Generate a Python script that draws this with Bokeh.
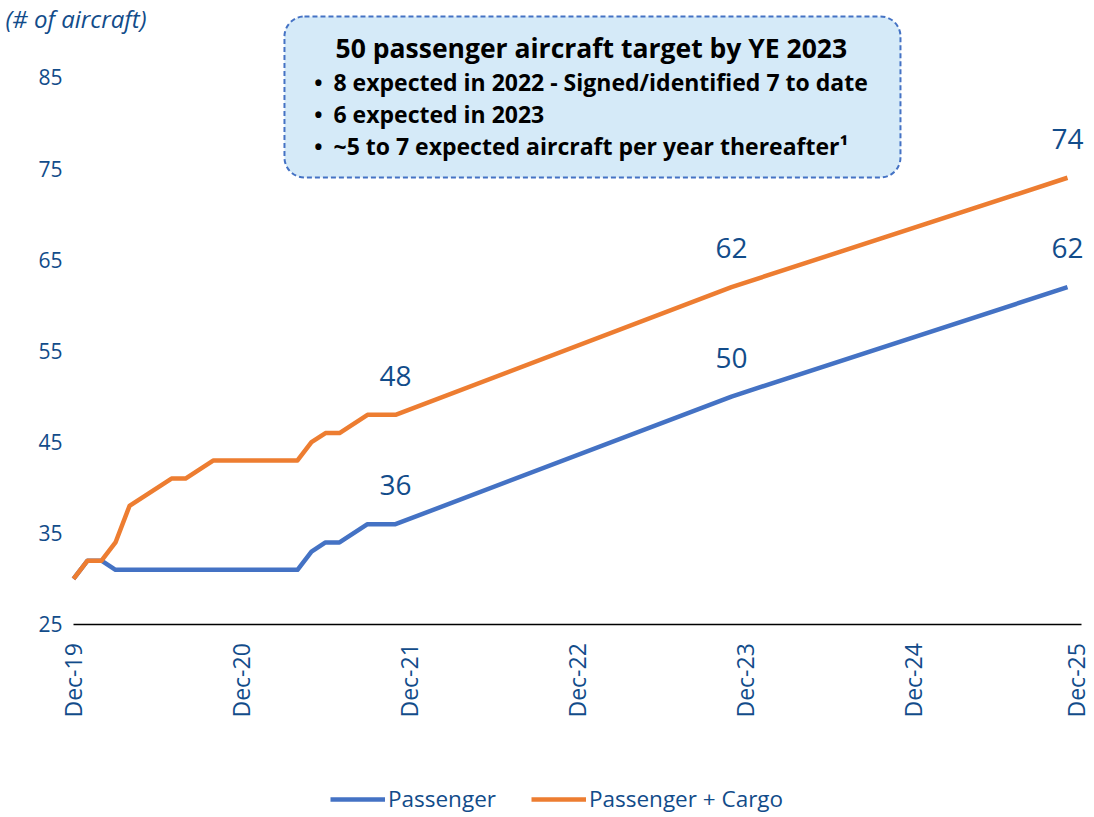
from bokeh.plotting import figure
from bokeh.models import (Range1d, FixedTicker, Legend, LegendItem, Label, BoxAnnotation)
from bokeh.core.properties import value
from bokeh.embed import file_html
from bokeh.resources import INLINE

# ---- data ----
pax_months = [0, 1, 2, 3, 16, 17, 18, 19, 21, 23, 47, 71]
pax_values = [30, 32, 32, 31, 31, 33, 34, 34, 36, 36, 50, 62]
pc_months = [0, 1, 2, 3, 4, 7, 8, 10, 16, 17, 18, 19, 21, 23, 47, 71]
pc_values = [30, 32, 32, 34, 38, 41, 41, 43, 43, 45, 46, 46, 48, 48, 62, 74]
label_months = [23, 47, 71]
pax_labels = [36, 50, 62]
pc_labels = [48, 62, 74]
tick_months = [0, 12, 24, 36, 48, 60, 72]
tick_labels = ["Dec-19", "Dec-20", "Dec-21", "Dec-22", "Dec-23", "Dec-24", "Dec-25"]
y_ticks = [25, 35, 45, 55, 65, 75, 85]

BLUE = "#4472c4"
ORANGE = "#ed7d31"
TXT = "#124c8a"
FONT = "Open Sans"

p = figure(frame_width=1092, frame_height=816, output_backend="svg", toolbar_location=None,
           x_range=Range1d(-5.214, 72.786), y_range=Range1d(3.94, 93.44),
           x_axis_location="above", y_axis_location="right",
           min_border_left=0, min_border_right=0, min_border_top=0,
           min_border_bottom=0)
p.outline_line_color = None
p.xgrid.grid_line_color = None
p.ygrid.grid_line_color = None
p.background_fill_color = None
p.border_fill_color = "white"

# x axis drawn at y = 25, labels hanging below it
p.xaxis.ticker = FixedTicker(ticks=tick_months)
p.xaxis.fixed_location = 25
p.xaxis.bounds = (0, 72)
p.xaxis.major_label_overrides = {m: l for m, l in zip(tick_months, tick_labels)}
p.xaxis.major_label_orientation = "vertical"
p.xaxis.major_label_text_font = FONT
p.xaxis.major_label_text_font_size = "23px"
p.xaxis.major_label_text_color = TXT
p.xaxis.major_label_standoff = -99
p.xaxis.major_tick_line_color = None
p.xaxis.minor_tick_line_color = None
p.xaxis.axis_line_color = "black"
p.xaxis.axis_line_width = 1.5

# y axis drawn at month 0, labels to its left
p.yaxis.ticker = FixedTicker(ticks=y_ticks)
p.yaxis.fixed_location = 0
p.yaxis.bounds = (25, 85)
p.yaxis.major_label_text_font = FONT
p.yaxis.major_label_text_font_size = "21px"
p.yaxis.major_label_text_color = TXT
p.yaxis.major_label_standoff = -41
p.yaxis.major_tick_line_color = None
p.yaxis.minor_tick_line_color = None
p.yaxis.axis_line_color = None

# annotation box
box = BoxAnnotation(left=15.07, right=59.07, top=91.69, bottom=74.03,
                    fill_color="#d5eaf8", fill_alpha=1.0,
                    line_color=BLUE, line_alpha=1.0, line_dash="5 3", line_width=2,
                    border_radius=20, level="underlay")
p.add_layout(box)

p.add_layout(Label(x=36.99, y=88.18, text="50 passenger aircraft target by YE 2023",
                   text_font=FONT, text_font_style="bold", text_font_size="26.5px",
                   text_color="black", text_align="center", text_baseline="middle"))
bullets = ["8 expected in 2022 - Signed/identified 7 to date",
           "6 expected in 2023",
           "~5 to 7 expected aircraft per year thereafter\u00b9"]
bullet_y = [84.5, 81.0, 77.5]
for t, yy in zip(bullets, bullet_y):
    p.add_layout(Label(x=17.2, y=yy, text="\u2022", text_font=FONT, text_font_style="bold",
                       text_font_size="22px", text_color="black", text_align="left",
                       text_baseline="middle"))
    p.add_layout(Label(x=18.57, y=yy, text=t, text_font=FONT, text_font_style="bold",
                       text_font_size="23px", text_color="black", text_align="left",
                       text_baseline="middle"))

p.add_layout(Label(x=-4.857, y=91.47, text="(# of aircraft)", text_font=FONT,
                   text_font_style="italic", text_font_size="24px", text_color=TXT,
                   text_align="left", text_baseline="middle"))

# lines
r_pax = p.line(pax_months, pax_values, line_color=BLUE, line_width=4.5, line_join="round")
r_pc = p.line(pc_months, pc_values, line_color=ORANGE, line_width=4.5, line_join="round")

# data labels
p.text(label_months, pc_labels, text=[str(v) for v in pc_labels],
       text_font=value(FONT), text_font_size="28px", text_color=TXT,
       text_align="center", text_baseline="middle", y_offset=-39)
p.text(label_months, pax_labels, text=[str(v) for v in pax_labels],
       text_font=value(FONT), text_font_size="28px", text_color=TXT,
       text_align="center", text_baseline="middle", y_offset=-39)

legend = Legend(items=[LegendItem(label="Passenger", renderers=[r_pax]),
                       LegendItem(label="Passenger + Cargo", renderers=[r_pc])],
                orientation="horizontal", location=(330, 2),
                label_text_font=FONT, label_text_font_size="22.5px", label_text_color=TXT,
                glyph_width=55, glyph_height=20, label_standoff=3, spacing=35,
                padding=0, margin=0, border_line_color=None, background_fill_alpha=0)
p.add_layout(legend)

open("out.html", "w").write(file_html(p, INLINE))
